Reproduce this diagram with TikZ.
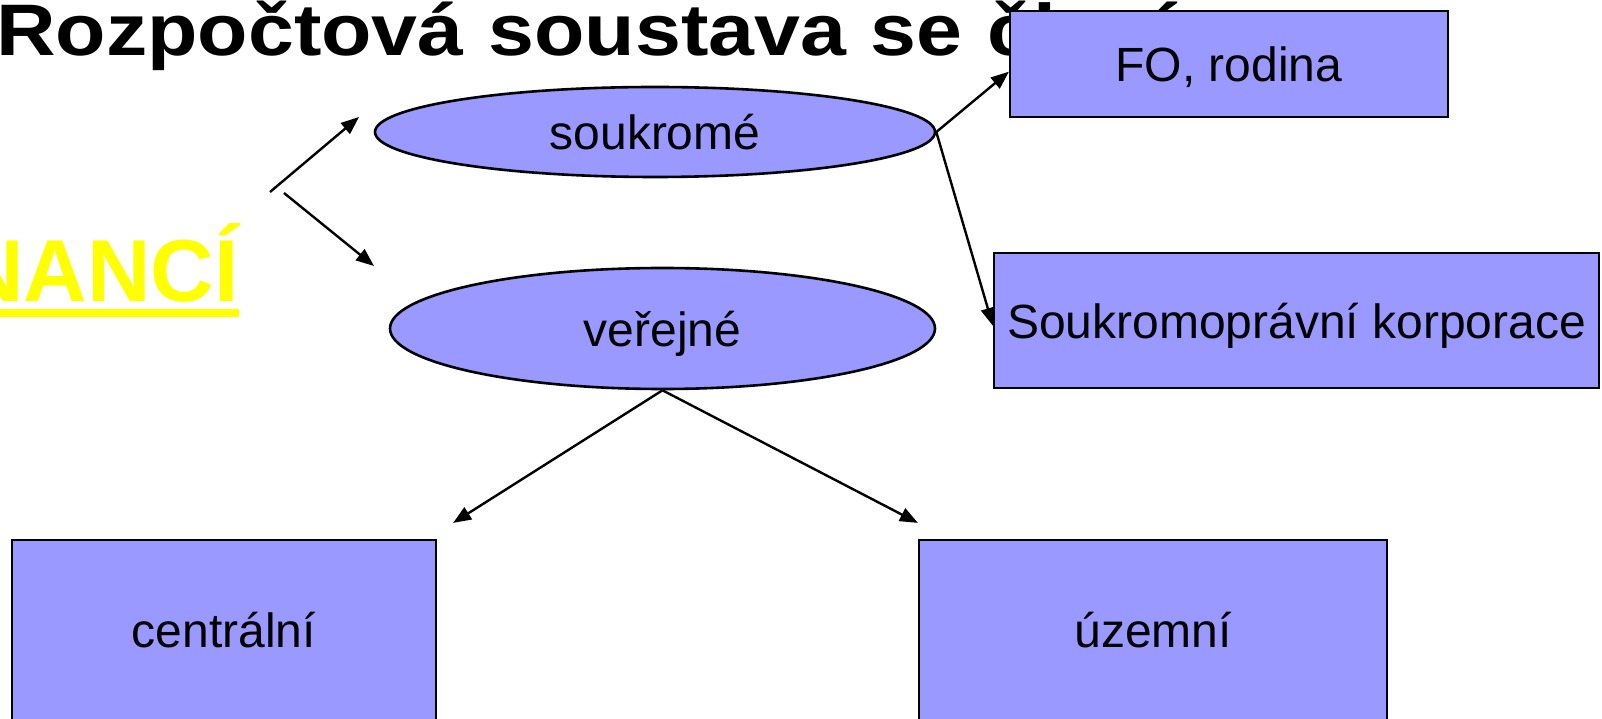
\documentclass[tikz,border=0pt]{standalone}
\usepackage{fontspec}
\setmainfont{Liberation Sans}
\usetikzlibrary{arrows.meta, shapes.geometric, positioning}
\definecolor{boxblue}{RGB}{153,153,255}
\definecolor{headyellow}{RGB}{255,255,0}

\begin{document}
\begin{tikzpicture}[x=1pt, y=1pt, font=\fontsize{48}{56}\selectfont]
\tikzstyle{box}=[rectangle, draw, fill=boxblue, line width=2.2pt, inner sep=0pt, text depth=0pt]
\tikzstyle{oval}=[ellipse, draw, fill=boxblue, line width=2.6pt, inner sep=0pt, text depth=0pt]
\tikzstyle{arr}=[-{Triangle[length=18pt, width=14pt]}, line width=2.4pt]

\useasboundingbox (0,0) rectangle (1602,718);
\clip (0,0) rectangle (1602,718);

% heading, partly under the boxes
\node[anchor=base west, inner sep=0pt, font=\fontsize{73}{80}\selectfont\bfseries] (title) at (-4,662)
  {\scalebox{1.13}[1]{\spaceskip=22pt Rozpočtová soustava se člení}};
\node[anchor=base east, inner sep=0pt, text=headyellow, font=\fontsize{88}{92}\selectfont\bfseries] (fin) at (239,416) {NANCÍ};
\fill[headyellow] ([yshift=-15pt]fin.base west) rectangle ([yshift=-7pt]fin.base east);

\node[oval, minimum width=560pt, minimum height=90pt] (sou) at (655,586) {soukromé};
\node[oval, minimum width=545pt, minimum height=121pt] (ve) at (662.5,389.5) {veřejné};
\node[box, minimum width=438pt, minimum height=106pt] (fo) at (1229,654) {FO, rodina};
\node[box, minimum width=605pt, minimum height=135pt] (sk) at (1296.5,397.5) {Soukromoprávní korporace};
\node[box, minimum width=424pt, minimum height=180pt] (ce) at (224,88) {centrální};
\node[box, minimum width=468pt, minimum height=180pt] (uz) at (1153,88) {územní};

\coordinate (fork1) at (270,526);
\coordinate (fork2) at (284,525);
\coordinate (up) at (359,601);
\coordinate (down) at (374,452);
\draw[arr] (fork1) -- (up);
\draw[arr] (fork2) -- (down);

\path[arr]
(sou.east) edge (fo.182)
           edge (sk.181)
(ve.south) edge ([shift={(16,16)}]ce.north east)
           edge ([shift={(0,16)}]uz.north west);

\end{tikzpicture}
\end{document}
